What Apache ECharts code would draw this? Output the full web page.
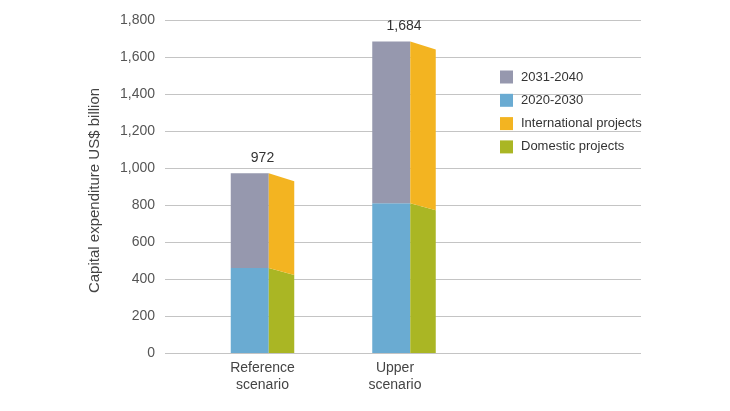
<!DOCTYPE html>
<html>
<head>
<meta charset="utf-8">
<script src="https://cdn.jsdelivr.net/npm/echarts@6/dist/echarts.min.js"></script>
<style>
html,body{margin:0;padding:0;background:#fff;}
#chart{width:730px;height:411px;}
</style>
</head>
<body>
<div id="chart"></div>
<script>
// ---- data ----
const categories = ['Reference\nscenario', 'Upper\nscenario'];
const period2020_2030 = [460, 810];
const period2031_2040 = [512, 874];
const domesticProjects = [460, 810];
const internationalProjects = [512, 874];
const totals = [972, 1684];
const yTicks = [0, 200, 400, 600, 800, 1000, 1200, 1400, 1600, 1800];

// ---- style ----
const FONT = '"Liberation Sans", Arial, sans-serif';
const C_GREY = '#9698ae';
const C_BLUE = '#6aabd2';
const C_ORANGE = '#f3b421';
const C_GREEN = '#aab624';
const FRONT_W = 38;
const SIDE_W = 25.5;
const TOP_DROP = 8;
const MID_DROP = 7;

const chart = echarts.init(document.getElementById('chart'));

function frontItem(baseArr, valArr, withLabel) {
  return function (params, api) {
    const i = params.dataIndex;
    const base = baseArr ? baseArr[i] : 0;
    const top = base + valArr[i];
    const pTop = api.coord([i, top]);
    const pBase = api.coord([i, base]);
    const x0 = pTop[0] - (FRONT_W + SIDE_W) / 2;
    const children = [{
      type: 'rect',
      shape: { x: x0, y: pTop[1], width: FRONT_W, height: pBase[1] - pTop[1] },
      style: { fill: api.visual('color') }
    }];
    if (withLabel) {
      children.push({
        type: 'text',
        style: {
          text: totals[i].toLocaleString('en-US'),
          x: pTop[0], y: pTop[1] - 8,
          align: 'center', verticalAlign: 'bottom',
          fill: '#333', font: '14px ' + FONT
        }
      });
    }
    return { type: 'group', children: children };
  };
}

function sideItem(baseArr, valArr, baseDrop, topDrop) {
  return function (params, api) {
    const i = params.dataIndex;
    const base = baseArr ? baseArr[i] : 0;
    const top = base + valArr[i];
    const pTop = api.coord([i, top]);
    const pBase = api.coord([i, base]);
    const x0 = pTop[0] - (FRONT_W + SIDE_W) / 2 + FRONT_W;
    const x1 = x0 + SIDE_W;
    return {
      type: 'polygon',
      shape: { points: [
        [x0, pTop[1]], [x1, pTop[1] + topDrop],
        [x1, pBase[1] + baseDrop], [x0, pBase[1]]
      ] },
      style: { fill: api.visual('color') }
    };
  };
}

const gridCommon = { top: 20, bottom: 58 };

const option = {
  backgroundColor: '#fff',
  animation: false,
  textStyle: { fontFamily: FONT },
  grid: [
    Object.assign({ left: 165, right: 89 }, gridCommon),
    Object.assign({ left: 191.75, width: 283 }, gridCommon),
    Object.assign({ left: 196.25, width: 265 }, gridCommon)
  ],
  legend: {
    orient: 'vertical',
    left: 495, top: 65.5,
    icon: 'rect',
    itemWidth: 13, itemHeight: 13, itemGap: 10.3,
    textStyle: { fontSize: 13, color: '#333', fontFamily: FONT, padding: [0, 0, 0, 3] },
    data: ['2031-2040', '2020-2030', 'International projects', 'Domestic projects']
  },
  xAxis: [
    { gridIndex: 0, type: 'value', min: 0, max: 1, show: false },
    { gridIndex: 1, type: 'category', data: categories, show: false },
    {
      gridIndex: 2, type: 'category', data: categories,
      axisLine: { show: false }, axisTick: { show: false },
      axisLabel: { color: '#444', fontSize: 14, lineHeight: 17, margin: 7, fontFamily: FONT }
    }
  ],
  yAxis: [
    {
      gridIndex: 0, type: 'value', min: 0, max: 1800, interval: 200,
      name: 'Capital expenditure US$ billion',
      nameLocation: 'middle', nameGap: 63, nameRotate: 90,
      nameTextStyle: { color: '#444', fontSize: 15, fontFamily: FONT, padding: [0, 8, 0, 0] },
      axisLine: { show: false }, axisTick: { show: false },
      axisLabel: {
        color: '#555', fontSize: 14, margin: 10, fontFamily: FONT,
        formatter: v => yTicks.indexOf(v) >= 0 ? v.toLocaleString('en-US') : ''
      },
      splitLine: { lineStyle: { color: '#c4c4c4', width: 1 } }
    },
    { gridIndex: 1, type: 'value', min: 0, max: 1800, show: false },
    { gridIndex: 2, type: 'value', min: 0, max: 1800, show: false }
  ],
  series: [
    {
      name: '2020-2030', type: 'custom', xAxisIndex: 1, yAxisIndex: 1,
      itemStyle: { color: C_BLUE },
      renderItem: frontItem(null, period2020_2030, false),
      data: period2020_2030
    },
    {
      name: '2031-2040', type: 'custom', xAxisIndex: 1, yAxisIndex: 1,
      itemStyle: { color: C_GREY },
      renderItem: frontItem(period2020_2030, period2031_2040, true),
      data: period2031_2040
    },
    {
      name: 'Domestic projects', type: 'custom', xAxisIndex: 1, yAxisIndex: 1,
      itemStyle: { color: C_GREEN },
      renderItem: sideItem(null, domesticProjects, 0, MID_DROP),
      data: domesticProjects
    },
    {
      name: 'International projects', type: 'custom', xAxisIndex: 1, yAxisIndex: 1,
      itemStyle: { color: C_ORANGE },
      renderItem: sideItem(domesticProjects, internationalProjects, MID_DROP, TOP_DROP),
      data: internationalProjects
    }
  ]
};

chart.setOption(option);
</script>
</body>
</html>
